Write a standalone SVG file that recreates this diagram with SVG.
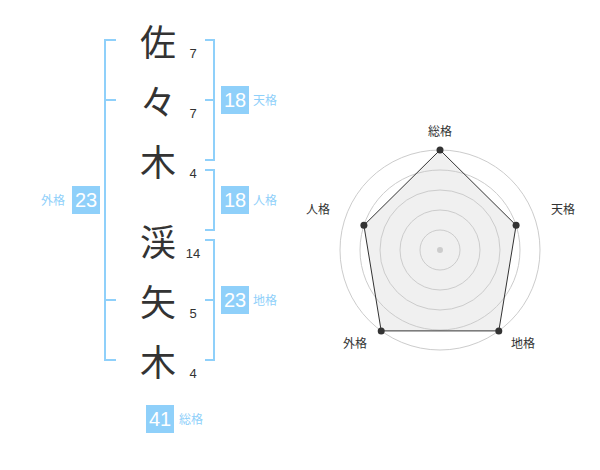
<svg xmlns="http://www.w3.org/2000/svg" width="600" height="470" viewBox="0 0 600 470">
<style>
.ch{font-family:"Noto Sans CJK JP","Noto Sans CJK SC",sans-serif;font-size:36px;fill:#333;text-anchor:middle;dominant-baseline:central}
.st{font-family:"Liberation Sans",Arial,sans-serif;font-size:13px;fill:#333;text-anchor:middle}
.br{fill:none;stroke:#8fd0fa;stroke-width:2}
.bx{fill:#8fd0fa}
.bn{font-family:"Liberation Sans",Arial,sans-serif;font-size:20px;fill:#fff;text-anchor:middle}
.lb{font-family:"Noto Sans CJK JP","Noto Sans CJK SC",sans-serif;font-size:12px;fill:#8fd0fa}
.rl{font-family:"Noto Sans CJK JP","Noto Sans CJK SC",sans-serif;font-size:12px;fill:#333;text-anchor:middle;dominant-baseline:central}
.gc{fill:none;stroke:#ccc;stroke-width:1}
.dot{fill:#333}
</style>
<rect width="600" height="470" fill="#fff"/>
<g id="connectors">
<path class="br" d="M116,40 H105 V360 H116 M105,100 H116 M105,300 H116"/>
<path class="br" d="M205,40 H214 V160 H205 M205,100 H214"/>
<path class="br" d="M205,170 H214 V230 H205"/>
<path class="br" d="M205,240 H214 V360 H205 M205,300 H214"/>
</g>
<g id="name">
<g id="c1"><text class="ch" x="158" y="40">佐</text><text class="st" x="193" y="57.5">7</text></g>
<g id="c2"><text class="ch" x="158" y="100">々</text><text class="st" x="193" y="117.5">7</text></g>
<g id="c3"><text class="ch" x="158" y="160">木</text><text class="st" x="193" y="177.5">4</text></g>
<g id="c4"><text class="ch" x="158" y="240">渓</text><text class="st" x="193" y="257.5">14</text></g>
<g id="c5"><text class="ch" x="158" y="300">矢</text><text class="st" x="193" y="317.5">5</text></g>
<g id="c6"><text class="ch" x="158" y="360">木</text><text class="st" x="193" y="377.5">4</text></g>
</g>
<g id="tenkaku"><rect class="bx" x="221" y="86" width="28" height="28"/><text class="bn" x="235" y="107">18</text><text class="lb" x="253" y="104.5">天格</text></g>
<g id="jinkaku"><rect class="bx" x="221" y="186" width="28" height="28"/><text class="bn" x="235" y="207">18</text><text class="lb" x="253" y="204.5">人格</text></g>
<g id="chikaku"><rect class="bx" x="221" y="286" width="28" height="28"/><text class="bn" x="235" y="307">23</text><text class="lb" x="253" y="304.5">地格</text></g>
<g id="gaikaku"><rect class="bx" x="72" y="186" width="28" height="28"/><text class="bn" x="86" y="207">23</text><text class="lb" x="41" y="204.5">外格</text></g>
<g id="soukaku"><rect class="bx" x="146" y="405" width="28" height="28"/><text class="bn" x="160" y="426">41</text><text class="lb" x="179" y="423.5">総格</text></g>
<g id="radar">
<polygon points="440,150 516.1,225.3 498.8,330.9 381.2,330.9 363.9,225.3" fill="#f0f0f0"/>
<circle class="gc" cx="440" cy="250" r="20"/>
<circle class="gc" cx="440" cy="250" r="40"/>
<circle class="gc" cx="440" cy="250" r="60"/>
<circle class="gc" cx="440" cy="250" r="80"/>
<circle class="gc" cx="440" cy="250" r="100"/>
<circle cx="440" cy="250" r="3" fill="#ccc"/>
<polygon points="440,150 516.1,225.3 498.8,330.9 381.2,330.9 363.9,225.3" fill="none" stroke="#333" stroke-width="1"/>
<circle class="dot" cx="440" cy="150" r="3.5"/>
<circle class="dot" cx="516.1" cy="225.3" r="3.5"/>
<circle class="dot" cx="498.8" cy="330.9" r="3.5"/>
<circle class="dot" cx="381.2" cy="330.9" r="3.5"/>
<circle class="dot" cx="363.9" cy="225.3" r="3.5"/>
<text class="rl" x="440" y="130.5">総格</text>
<text class="rl" x="563" y="208.5">天格</text>
<text class="rl" x="523" y="342.5">地格</text>
<text class="rl" x="355" y="342.5">外格</text>
<text class="rl" x="318" y="208.5">人格</text>
</g>
</svg>
